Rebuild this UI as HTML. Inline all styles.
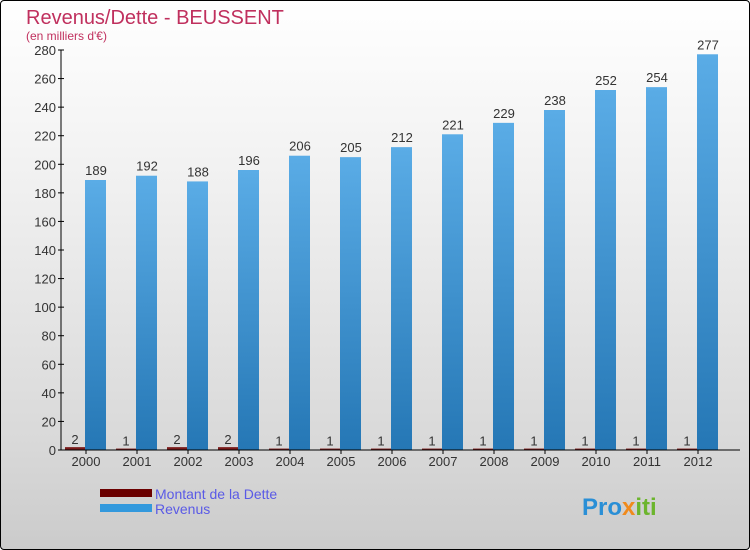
<!DOCTYPE html>
<html><head><meta charset="utf-8"><style>
body{margin:0;width:750px;height:550px;overflow:hidden;font-family:"Liberation Sans",sans-serif}
#frame{position:absolute;left:0;top:0;width:748px;height:548px;border:1px solid #000;border-radius:4px;background:linear-gradient(#fff,#f2f2f2 30%,#d9d9d9 80%,#cbcbcb)}
</style></head><body>
<div id="frame"></div>
<svg id="chart" width="750" height="550" style="position:absolute;left:0;top:0">
<defs>
<linearGradient id="rev" x1="0" y1="0" x2="0" y2="1"><stop offset="0" stop-color="#5aacE6"/><stop offset="1" stop-color="#2577b5"/></linearGradient>
</defs>
<text x="26" y="24" font-size="20" fill="#c0305e">Revenus/Dette - BEUSSENT</text>
<text x="26" y="40" font-size="12" fill="#c0305e">(en milliers d'€)</text>
<g id="plot"></g>
<rect x="100" y="489" width="52" height="8" fill="#6b0000"/>
<rect x="100" y="504" width="52" height="8" fill="#3399dd"/>
<text x="155" y="499" font-size="14" fill="#5a5ae6">Montant de la Dette</text>
<text x="155" y="514" font-size="14" fill="#5a5ae6">Revenus</text>
<text x="582" y="515" font-size="24" font-weight="bold"><tspan fill="#2a8fd6">Pro</tspan><tspan fill="#f08a1c">x</tspan><tspan fill="#6cb52d">iti</tspan></text>
</svg>
<script>
const years=["2000","2001","2002","2003","2004","2005","2006","2007","2008","2009","2010","2011","2012"];
const revenus=[189,192,188,196,206,205,212,221,229,238,252,254,277];
const dette=[2,1,2,2,1,1,1,1,1,1,1,1,1];
const yTicks=[0,20,40,60,80,100,120,140,160,180,200,220,240,260,280];
const NS="http://www.w3.org/2000/svg";
const g=document.getElementById('plot');
const y0=450,y1=50,yMax=280;
function y(v){return y0-(v/yMax)*(y0-y1);}
function x(i){return 86+i*51;}
function mk(t,a,txt){const e=document.createElementNS(NS,t);for(const k in a)e.setAttribute(k,a[k]);if(txt!==undefined)e.textContent=txt;g.appendChild(e);return e;}
yTicks.forEach(v=>{
  const l=mk('line',{x1:58,x2:64,y1:y(v),y2:y(v),stroke:'#000'});
  
  
  const t=mk('text',{x:56,y:y(v)+5,'font-size':13,fill:'#333','text-anchor':'end'},v);
  
  
});
years.forEach((yr,i)=>{
  const c=x(i);
  const d=mk('rect',{x:c-21,y:y(dette[i]),width:20,height:y0-y(dette[i]),fill:'#7a1a1a'});
  
  
  const r=mk('rect',{x:c-1,y:y(revenus[i]),width:21,height:y0-y(revenus[i]),fill:'url(#rev)'});
  
  
  const rl=mk('text',{x:c+10,y:y(revenus[i])-5,'font-size':13,fill:'#333','text-anchor':'middle'},revenus[i]);
  
  
  const dl=mk('text',{x:c-11,y:y(dette[i])-3,'font-size':13,fill:'#333','text-anchor':'middle'},dette[i]);
  
  
  const xl=mk('text',{x:c,y:466,'font-size':13,fill:'#333','text-anchor':'middle'},yr);
  
  
  const xt=mk('line',{x1:c,x2:c,y1:450,y2:454,stroke:'#000'});
  
  
});
const ya=mk('line',{x1:61,x2:61,y1:50,y2:450,stroke:'#000'});


const xa=mk('line',{x1:61,x2:740,y1:450,y2:450,stroke:'#000'});


</script>
</body></html>
